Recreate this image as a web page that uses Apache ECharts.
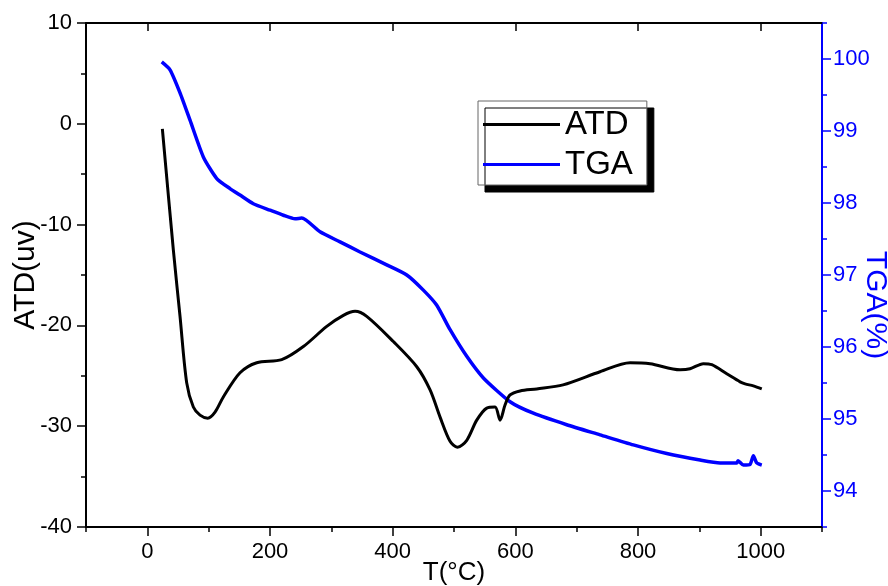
<!DOCTYPE html>
<html>
<head>
<meta charset="utf-8">
<script src="https://cdn.jsdelivr.net/npm/echarts@6/dist/echarts.min.js"></script>
<style>html,body{margin:0;padding:0;background:#fff}#c{width:888px;height:586px}</style>
</head>
<body>
<div id="c"></div>
<script>
const atdT = [24.5,42.4,53.3,64.2,75,85.9,98.5,110.4,123.9,151.1,178.4,219.1,254.4,292.5,319.6,338.7,357.7,401.1,439.3,461,477.3,493.6,505.5,520.8,537.1,553.4,566.9,575.1,583.2,591.4,607.7,634.9,677.8,738.1,787.1,819.7,868.6,884.9,906.6,920.3,944.7,966.4,974.6,988.1,1001.8];
const atdVal = [-0.5,-12.5,-19.1,-25.7,-28.1,-28.9,-29.2,-28.6,-27.1,-24.7,-23.7,-23.4,-22.1,-20.1,-19.0,-18.6,-19.1,-21.6,-24.1,-26.4,-29.1,-31.5,-32.1,-31.4,-29.4,-28.2,-28.1,-29.4,-27.9,-26.9,-26.5,-26.3,-25.9,-24.6,-23.7,-23.8,-24.4,-24.3,-23.8,-23.9,-24.8,-25.6,-25.8,-26.0,-26.3];
const tgaT = [23.5,37,53.3,69.6,91.3,113.2,134.8,151.1,172.8,200.1,221.8,240.8,251.8,281.6,314.2,346.8,390.3,423,450,471.9,493.6,520.8,547.9,591.4,629.4,683.8,738.1,792.4,846.9,901.2,933.8,961,963.2,971.8,982.7,988.1,993.6,1001.8];
const tgaVal = [99.96,99.85,99.53,99.15,98.64,98.34,98.2,98.11,97.99,97.9,97.83,97.78,97.79,97.6,97.46,97.32,97.14,97.0,96.79,96.58,96.24,95.87,95.57,95.24,95.08,94.92,94.78,94.64,94.52,94.43,94.39,94.39,94.42,94.36,94.37,94.49,94.39,94.36];
const xTickLabels = [0,200,400,600,800,1000];
const xMinorTicks = [-100,100,300,500,700,900,1100];
const leftTickLabels = [-40,-30,-20,-10,0,10];
const leftMinorTicks = [-35,-25,-15,-5,5];
const rightTickLabels = [94,95,96,97,98,99,100];
const rightMinorTicks = [93.5,94.5,95.5,96.5,97.5,98.5,99.5,100.5];

const FONT = 'Liberation Sans, Arial, sans-serif';
const chart = echarts.init(document.getElementById('c'), null, {renderer:'canvas'});
const atdData = atdT.map((t,i)=>[t, atdVal[i]]);
const tgaData = tgaT.map((t,i)=>[t, tgaVal[i]]);
const plain = v => String(v);

function minorAxis(base, ticks, color, inside){
  return Object.assign({
    type:'value', axisLine:{show:false, onZero:false},
    axisTick:{show:true, inside:!!inside, length:5, customValues:ticks, lineStyle:{color:color, width:1.5}},
    axisLabel:{show:false}, splitLine:{show:false}
  }, base);
}

chart.setOption({
  animation:false,
  backgroundColor:'#fff',
  grid:{left:86,right:66,top:23,bottom:59,containLabel:false,outerBoundsMode:'none'},
  legend:{
    orient:'vertical', left:478, top:101,
    data:['ATD','TGA'],
    icon:'rect', itemWidth:77, itemHeight:3, itemGap:7,
    padding:[7,14,4,5],
    backgroundColor:'#fff', borderColor:'#666', borderWidth:1,
    shadowColor:'#000', shadowBlur:0, shadowOffsetX:7, shadowOffsetY:7,
    textStyle:{fontSize:33, fontFamily:FONT, color:'#000'}
  },
  xAxis:[{
    type:'value', min:-100, max:1100, position:'bottom',
    name:'T(°C)', nameLocation:'middle', nameGap:33, nameMoveOverlap:false,
    nameTextStyle:{fontSize:26, fontFamily:FONT, color:'#000', verticalAlign:'top'},
    axisLine:{onZero:false, lineStyle:{color:'#000', width:2}},
    axisTick:{inside:false, length:9, customValues:xTickLabels, lineStyle:{color:'#000', width:1.5}},
    axisLabel:{fontSize:22, fontFamily:FONT, color:'#000', margin:14, customValues:xTickLabels, formatter:plain},
    splitLine:{show:false}
  },{
    type:'value', min:-100, max:1100, position:'top',
    axisLine:{onZero:false, lineStyle:{color:'#000', width:2}},
    axisTick:{inside:true, length:8, customValues:xTickLabels, lineStyle:{color:'#000', width:1.5}},
    axisLabel:{show:false}, splitLine:{show:false}
  },
  minorAxis({min:-100, max:1100, position:'bottom'}, xMinorTicks, '#000', false)
  ],
  yAxis:[{
    type:'value', min:-40, max:10, position:'left',
    name:'ATD(uv)', nameLocation:'middle', nameGap:45, nameRotate:90, nameMoveOverlap:false,
    nameTextStyle:{fontSize:30, fontFamily:FONT, color:'#000'},
    axisLine:{show:true, onZero:false, lineStyle:{color:'#000', width:2}},
    axisTick:{show:true, inside:false, length:9, customValues:leftTickLabels, lineStyle:{color:'#000', width:1.5}},
    axisLabel:{fontSize:22, fontFamily:FONT, color:'#000', margin:14, customValues:leftTickLabels, formatter:plain},
    splitLine:{show:false}
  },{
    type:'value', min:93.5, max:100.5, position:'right',
    name:'TGA(%)', nameLocation:'middle', nameGap:38, nameRotate:-90, nameMoveOverlap:false,
    nameTextStyle:{fontSize:30, fontFamily:FONT, color:'#0000ff', padding:[0,0,0,60]},
    axisLine:{show:true, onZero:false, lineStyle:{color:'#0000ff', width:2}},
    axisTick:{show:true, inside:false, length:9, customValues:rightTickLabels, lineStyle:{color:'#0000ff', width:1.5}},
    axisLabel:{fontSize:22, fontFamily:FONT, color:'#0000ff', margin:11, customValues:rightTickLabels, formatter:plain},
    splitLine:{show:false}
  },
  minorAxis({min:-40, max:10, position:'left'}, leftMinorTicks, '#000', false),
  minorAxis({min:93.5, max:100.5, position:'right'}, rightMinorTicks, '#0000ff', false)
  ],
  series:[{
    name:'ATD', type:'line', xAxisIndex:0, yAxisIndex:0, data:atdData,
    showSymbol:false, smooth:0.3, lineStyle:{color:'#000', width:3}, itemStyle:{color:'#000'}, z:3
  },{
    name:'TGA', type:'line', xAxisIndex:0, yAxisIndex:1, data:tgaData,
    showSymbol:false, smooth:0.2, lineStyle:{color:'#0000ff', width:3.5}, itemStyle:{color:'#0000ff'}, z:2
  }]
});
</script>
</body>
</html>
